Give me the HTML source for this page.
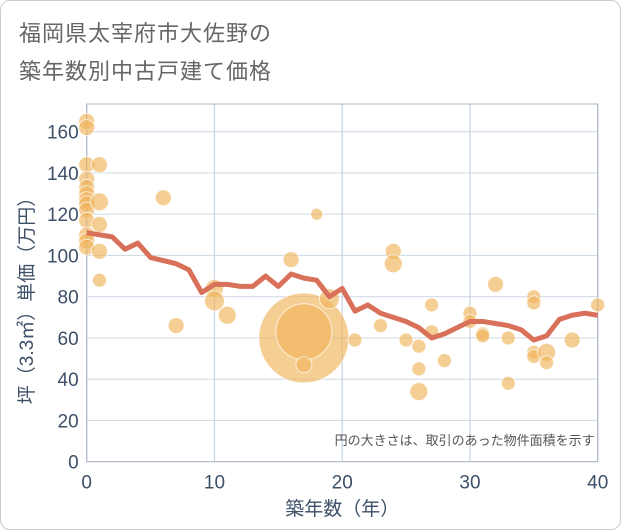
<!DOCTYPE html>
<html><head><meta charset="utf-8"><style>
body{margin:0;background:#fff;font-family:"Liberation Sans","Noto Sans CJK JP",sans-serif;}
#wrap{position:relative;width:619px;height:528px;border:1px solid #ccc;border-radius:10px;overflow:hidden;}
#title{position:absolute;left:18px;top:14px;font-size:22px;line-height:38px;color:#666;letter-spacing:1px;}
svg{position:absolute;left:0;top:0;}
</style></head><body>
<div id="wrap">
<div id="title">福岡県太宰府市大佐野の<br>築年数別中古戸建て価格</div>
<svg id="chart" width="621" height="530"></svg>
</div>
<script>
const xTicks=[0,10,20,30,40];
const yTicks=[0,20,40,60,80,100,120,140,160];
const lineYears=[0,1,2,3,4,5,6,7,8,9,10,11,12,13,14,15,16,17,18,19,20,21,22,23,24,25,26,27,28,29,30,31,32,33,34,35,36,37,38,39,40];
const lineValues=[111,110,109,103,106,99,97.5,96,93,82,86,86,85,85,90,85,91,89,88,80,84,73,76,72,70,68,65,60,62,65,68,68,67,66,64,59,61,69,71,72,71];
const ptX=[0,0,0,0,0,0,0,0,0,0,0,0,0,1,1,1,1,1,6,7,10,10,11,16,17,17,17,18,19,21,23,24,24,25,26,26,26,27,27,28,30,30,31,31,32,33,33,35,35,35,35,36,36,38,40];
const ptY=[165,162,144,137,133,130,127,125,122,117,110,107,104,144,126,115,102,88,128,66,84,78,71,98,60,63,47,120,79,59,66,102,96,59,56,45,34,76,63,49,72,68,62,61,86,60,38,80,77,53,51,53,48,59,76];
const ptR=[8,8,8,8,8,8,8,8,8,8,8,8,8,8,9,8,8,7,8,8,9,10,9,8,45,28,8,6,10,7,7,8,9,7,7,7,9,7,7,7,7,7,7,7,8,7,7,7,7,7,7,9,7,8,7];
const L=85.7,R=596.7,T=103,B=460.7;
const sx=v=>L+(v/40)*(R-L);
const sy=v=>B-(v/160)*(B-130.7);
const svg=document.getElementById('chart');
const NS='http://www.w3.org/2000/svg';
function mk(t,a){const e=document.createElementNS(NS,t);for(const k in a)e.setAttribute(k,a[k]);svg.appendChild(e);return e;}
let e;
yTicks.forEach(v=>{
 e=mk('line',{x1:L,x2:R,y1:sy(v),y2:sy(v),stroke:'#d3dde8','stroke-width':1.2});
 
 
 e=mk('text',{x:L-8,y:sy(v)+7,'text-anchor':'end','font-size':19,fill:'#3d5068'});e.textContent=v;
 
 
});
xTicks.forEach(v=>{
 e=mk('line',{x1:sx(v),x2:sx(v),y1:T,y2:B,stroke:'#c5d3e2','stroke-width':1.2});
 
 
 e=mk('text',{x:sx(v),y:B+27,'text-anchor':'middle','font-size':19,fill:'#3d5068'});e.textContent=v;
 
 
});
e=mk('rect',{x:L,y:T,width:R-L,height:B-T,fill:'none',stroke:'#aab4c0','stroke-width':1});


ptX.forEach((x,i)=>{
 e=mk('circle',{cx:sx(x),cy:sy(ptY[i]),r:ptR[i],fill:'rgba(240,180,90,0.65)',stroke:'rgba(255,255,255,0.7)','stroke-width':1});
 
 
});
e=mk('polyline',{points:lineYears.map((x,i)=>sx(x)+','+sy(lineValues[i])).join(' '),fill:'none',stroke:'#d9705a','stroke-width':5,'stroke-linejoin':'round'});


e=mk('text',{x:R-3,y:444,'text-anchor':'end','font-size':13,fill:'#555'});e.textContent='円の大きさは、取引のあった物件面積を示す';


e=mk('text',{x:sx(20),y:514,'text-anchor':'middle','font-size':19,fill:'#3d5068'});e.textContent='築年数（年）';


e=mk('text',{x:0,y:0,'text-anchor':'middle','font-size':19,fill:'#3d5068',transform:'translate(32,295) rotate(-90)'});e.textContent='坪（3.3㎡）単価（万円）';


</script>
</body></html>
